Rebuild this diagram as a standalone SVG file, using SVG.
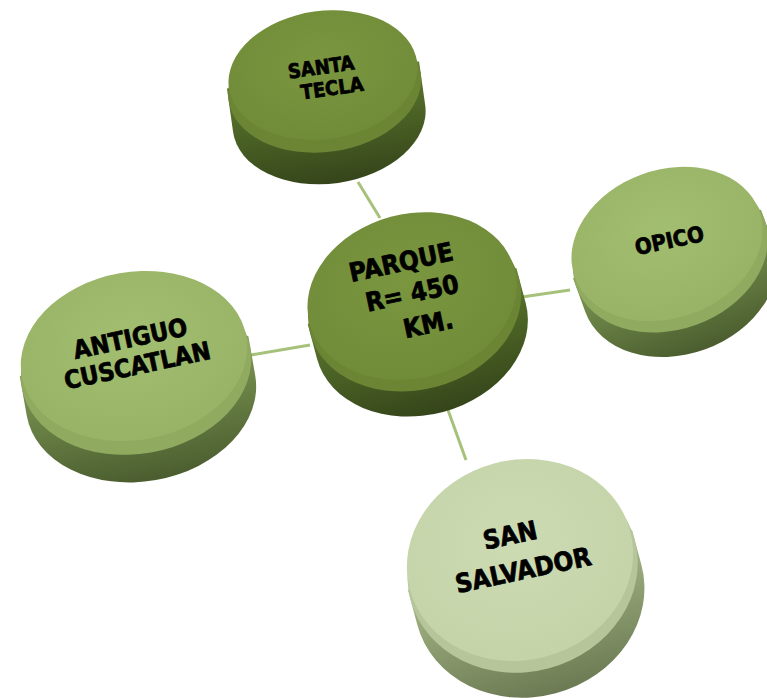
<svg xmlns="http://www.w3.org/2000/svg" width="767" height="698" viewBox="0 0 767 698">
<defs>
<linearGradient id="sideDark" x1="0" y1="0" x2="0" y2="1"><stop offset="0" stop-color="#5d7a2e"/><stop offset="1" stop-color="#35451a"/></linearGradient>
<linearGradient id="sideMid" x1="0" y1="0" x2="0" y2="1"><stop offset="0" stop-color="#7f9a55"/><stop offset="1" stop-color="#4b5d2f"/></linearGradient>
<linearGradient id="sideLight" x1="0" y1="0" x2="0" y2="1"><stop offset="0" stop-color="#a9ba8a"/><stop offset="1" stop-color="#6b7a52"/></linearGradient>
<radialGradient id="topDark" cx="0.5" cy="0.4" r="0.6"><stop offset="0" stop-color="#7a963f"/><stop offset="1" stop-color="#718c39"/></radialGradient>
<radialGradient id="topMid" cx="0.5" cy="0.4" r="0.6"><stop offset="0" stop-color="#a2be70"/><stop offset="1" stop-color="#98b365"/></radialGradient>
<radialGradient id="topLight" cx="0.5" cy="0.4" r="0.6"><stop offset="0" stop-color="#cddbb3"/><stop offset="1" stop-color="#c4d3a8"/></radialGradient>
</defs>
<style>
.conn{stroke:#a6c27a;stroke-width:3;fill:none}
.lbl{font-family:"DejaVu Sans Condensed","DejaVu Sans","Liberation Sans",sans-serif;font-stretch:condensed;font-weight:bold;fill:#000;stroke:#000;stroke-width:0.7;text-anchor:middle}
.dk .bev{fill:#6b8535}.md .bev{fill:#90aa60}.lt .bev{fill:#b6c69a}
</style>
<rect width="767" height="698" fill="#fff"/>
<g id="connectors">
<line class="conn" x1="358" y1="182" x2="380" y2="218"/>
<line class="conn" x1="515" y1="298" x2="570" y2="290"/>
<line class="conn" x1="245" y1="356" x2="310" y2="345"/>
<line class="conn" x1="448" y1="410" x2="466" y2="460"/>
</g>
<g id="santa-tecla" class="dk">
<g transform="translate(323,75) rotate(-8)">
<path d="M-97 0 L-97 44 A97 65 0 0 0 97 44 L97 0 Z" fill="url(#sideDark)"/>
<ellipse class="bev" cx="0" cy="12" rx="97" ry="65"/>
<ellipse cx="0" cy="0" rx="95" ry="64" fill="url(#topDark)"/>
</g>
<text class="lbl" font-size="20" transform="translate(322,74) rotate(-8)">SANTA</text>
<text class="lbl" font-size="20" transform="translate(333,95) rotate(-8)">TECLA</text>
</g>
<g id="parque" class="dk">
<g transform="translate(412,296) rotate(-15)">
<path d="M-108 0 L-108 36 A108 84 0 0 0 108 36 L108 0 Z" fill="url(#sideDark)"/>
<ellipse class="bev" cx="0" cy="10" rx="108" ry="84"/>
<ellipse cx="0" cy="0" rx="106" ry="82" fill="url(#topDark)"/>
</g>
<text class="lbl" font-size="26" transform="translate(403,271) rotate(-12)">PARQUE</text>
<text class="lbl" font-size="26" transform="translate(414,302) rotate(-12)">R= 450</text>
<text class="lbl" font-size="26" transform="translate(430,333) rotate(-12)">KM.</text>
</g>
<g id="antiguo-cuscatlan" class="md">
<g transform="translate(134,356) rotate(-10)">
<path d="M-116 0 L-116 40 A116 86 0 0 0 116 40 L116 0 Z" fill="url(#sideMid)"/>
<ellipse class="bev" cx="0" cy="12" rx="116" ry="86"/>
<ellipse cx="0" cy="0" rx="114" ry="84" fill="url(#topMid)"/>
</g>
<text class="lbl" font-size="25" transform="translate(132,347) rotate(-12)">ANTIGUO</text>
<text class="lbl" font-size="25" transform="translate(139,374) rotate(-12)">CUSCATLAN</text>
</g>
<g id="opico" class="md">
<g transform="translate(667,244) rotate(-20)">
<path d="M-100 0 L-100 36 A100 76 0 0 0 100 36 L100 0 Z" fill="url(#sideMid)"/>
<ellipse class="bev" cx="0" cy="10" rx="100" ry="76"/>
<ellipse cx="0" cy="0" rx="98" ry="74" fill="url(#topMid)"/>
</g>
<text class="lbl" font-size="22" transform="translate(671,248) rotate(-12)">OPICO</text>
</g>
<g id="san-salvador" class="lt">
<g transform="translate(520,560) rotate(-15)">
<path d="M-116 0 L-116 36 A116 102 0 0 0 116 36 L116 0 Z" fill="url(#sideLight)"/>
<ellipse class="bev" cx="0" cy="10" rx="116" ry="102"/>
<ellipse cx="0" cy="0" rx="114" ry="100" fill="url(#topLight)"/>
</g>
<text class="lbl" font-size="26" transform="translate(512,544) rotate(-12)">SAN</text>
<text class="lbl" font-size="26" transform="translate(525,579) rotate(-12)">SALVADOR</text>
</g>
</svg>
